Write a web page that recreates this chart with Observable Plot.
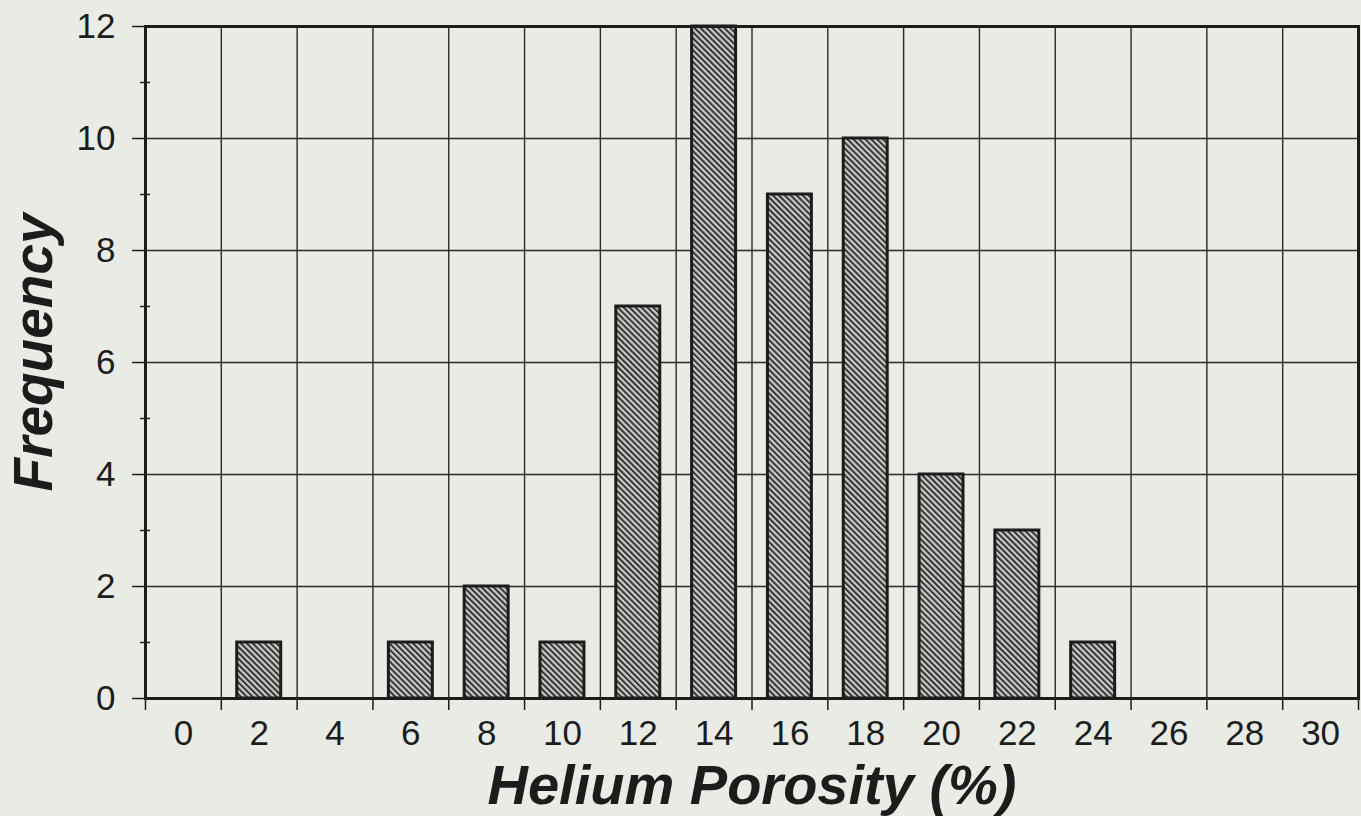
<!DOCTYPE html>
<html>
<head>
<meta charset="utf-8">
<script src="https://cdn.jsdelivr.net/npm/d3@7"></script>
<script src="https://cdn.jsdelivr.net/npm/@observablehq/plot@0.6"></script>
<style>
  html, body { margin: 0; padding: 0; background: #e9ebe5; }
  #chart svg { display: block; }
</style>
</head>
<body>
<div id="chart"></div>
<script>
// Data
const porosity = [0, 2, 4, 6, 8, 10, 12, 14, 16, 18, 20, 22, 24, 26, 28, 30];
const frequency = [0, 1, 0, 1, 2, 1, 7, 12, 9, 10, 4, 3, 1, 0, 0, 0];
const yTickValues = [0, 2, 4, 6, 8, 10, 12];
const yMinorTicks = [1, 3, 5, 7, 9, 11];
const yGrid = [2, 4, 6, 8, 10];

const binEdges = porosity.map(p => p - 1).concat([porosity[porosity.length - 1] + 1]);
const innerEdges = binEdges.slice(1, -1);
const halfWidth = 0.58;
const bars = porosity.map((p, i) => ({p, f: frequency[i]})).filter(d => d.f > 0);

const ink = "#1c1c1c";

const defs = () => {
  const d = d3.create("svg:defs");
  const pat = d.append("pattern")
    .attr("id", "hatch")
    .attr("patternUnits", "userSpaceOnUse")
    .attr("width", 4.2)
    .attr("height", 4.2)
    .attr("patternTransform", "rotate(-45)");
  pat.append("rect").attr("width", 4.2).attr("height", 4.2).attr("fill", "#cbccc7");
  pat.append("rect").attr("width", 2).attr("height", 4.2).attr("fill", "#333333");
  return d.node();
};

const chart = Plot.plot({
  width: 1361,
  height: 816,
  marginLeft: 145,
  marginRight: 3,
  marginTop: 26,
  marginBottom: 118,
  style: {background: "#e9ebe5", fontFamily: "'Liberation Sans', Arial, sans-serif", color: ink, overflow: "visible"},
  x: {domain: [binEdges[0], binEdges[binEdges.length - 1]], axis: null},
  y: {domain: [0, 12], axis: null},
  marks: [
    defs,
    Plot.ruleX(innerEdges, {stroke: "#2a2a2a", strokeWidth: 1.4}),
    Plot.ruleY(yGrid, {stroke: "#2a2a2a", strokeWidth: 1.4}),
    Plot.rect(bars, {
      x1: d => d.p - halfWidth,
      x2: d => d.p + halfWidth,
      y1: 0,
      y2: "f",
      fill: "url(#hatch)",
      stroke: ink,
      strokeWidth: 3
    }),
    Plot.frame({stroke: ink, strokeWidth: 3}),
    // y axis: major ticks with labels
    Plot.axisY({ticks: yTickValues, tickSize: 13, tickPadding: 17, fontSize: 35, stroke: ink, strokeWidth: 1.5, fill: ink, label: null}),
    // y axis: minor ticks
    Plot.axisY({ticks: yMinorTicks, tickSize: 10, dx: 5, stroke: ink, strokeWidth: 1.5, fill: "none", label: null}),
    // x axis: ticks at bin edges
    Plot.axisX({ticks: binEdges, tickSize: 12, stroke: ink, strokeWidth: 1.5, fill: "none", label: null}),
    // x axis: labels at bin centres
    Plot.axisX({ticks: porosity, tickSize: 0, tickPadding: 22, fontSize: 35, fill: ink, label: null}),
    Plot.text(["Helium Porosity (%)"], {
      frameAnchor: "bottom", lineAnchor: "middle", textAnchor: "middle", dy: 88,
      fontSize: 56, fontWeight: "bold", fontStyle: "italic", fill: ink
    }),
    Plot.text(["Frequency"], {
      frameAnchor: "left", lineAnchor: "middle", textAnchor: "middle", dx: -111, dy: -10, rotate: -90,
      fontSize: 55, fontWeight: "bold", fontStyle: "italic", fill: ink
    })
  ]
});

document.getElementById("chart").appendChild(chart);
</script>
</body>
</html>
